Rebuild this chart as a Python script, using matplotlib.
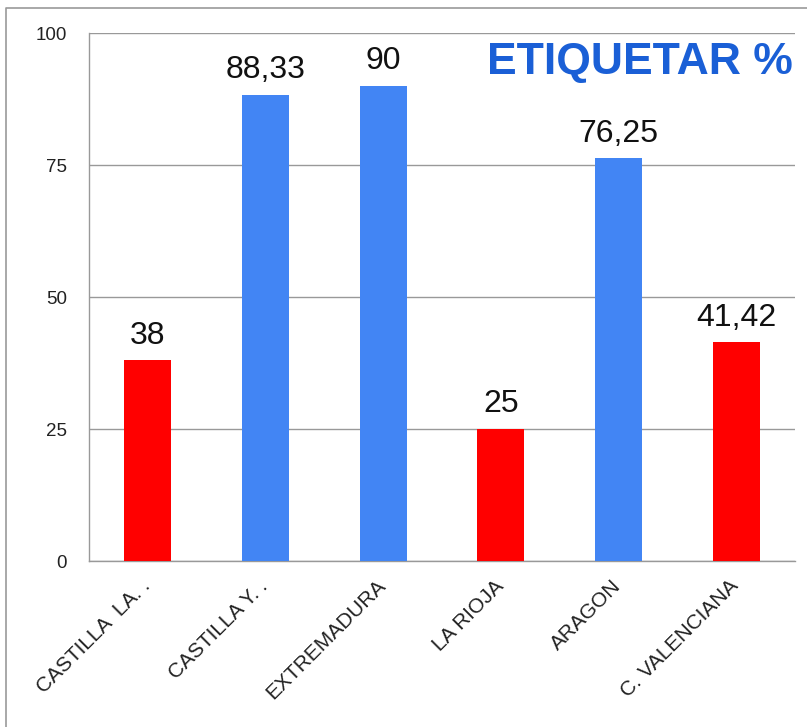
import matplotlib
matplotlib.use("Agg")
from matplotlib import rcParams
rcParams['font.family'] = ['Liberation Sans', 'DejaVu Sans']
import matplotlib.pyplot as plt
import matplotlib.lines as mlines
import matplotlib.transforms as mtransforms

# data
regions = ["CASTILLA  LA. .", "CASTILLA Y. .", "EXTREMADURA", "LA RIOJA", "ARAGON", "C. VALENCIANA"]
values = [38, 88.33, 90, 25, 76.25, 41.42]
labels = ["38", "88,33", "90", "25", "76,25", "41,42"]
colors = ["#ff0000", "#4285f4", "#4285f4", "#ff0000", "#4285f4", "#ff0000"]
yticks = [0, 25, 50, 75, 100]

fig = plt.figure(figsize=(8.07, 7.27), dpi=100)
ax = fig.add_axes([0.1103, 0.2283, 0.8747, 0.7263])

x = range(len(regions))
ax.bar(x, values, width=0.4, color=colors, zorder=3)
for xi, v, lab in zip(x, values, labels):
    ax.annotate(lab, (xi, v), xytext=(0, 7), textcoords="offset points",
                ha="center", va="bottom", fontsize=23, color="#111111")

ax.set_xlim(-0.5, len(regions) - 0.5)
ax.set_ylim(0, 100)
ax.set_yticks(yticks)
ax.set_yticklabels([str(t) for t in yticks], fontsize=13.5, color="#222222")
ax.yaxis.grid(True, color="#999999", lw=1, zorder=0)
ax.tick_params(axis="y", length=0, pad=16)
ax.tick_params(axis="x", length=0, pad=11)

ax.set_xticks(list(x))
ax.set_xticklabels(regions, rotation=45, ha="right", va="top",
                   rotation_mode="anchor", fontsize=15, color="#222222")
offset = mtransforms.ScaledTranslation(-5 / 72, 0, fig.dpi_scale_trans)
for lab in ax.get_xticklabels():
    lab.set_transform(lab.get_transform() + offset)

for side in ["top", "right"]:
    ax.spines[side].set_visible(False)
for side in ["left", "bottom"]:
    ax.spines[side].set_color("#999999")
    ax.spines[side].set_linewidth(1)

ax.text(0.997, 0.945, "ETIQUETAR %", transform=ax.transAxes, ha="right", va="center",
        fontsize=32, fontweight="bold", color="#1a5fd6")

# outer frame
fig.add_artist(mlines.Line2D([0.0074, 0.0074, 1.0], [0.0, 0.989, 0.989],
                             transform=fig.transFigure, color="#999999", lw=1.2))

plt.savefig("out.png", dpi=100)
